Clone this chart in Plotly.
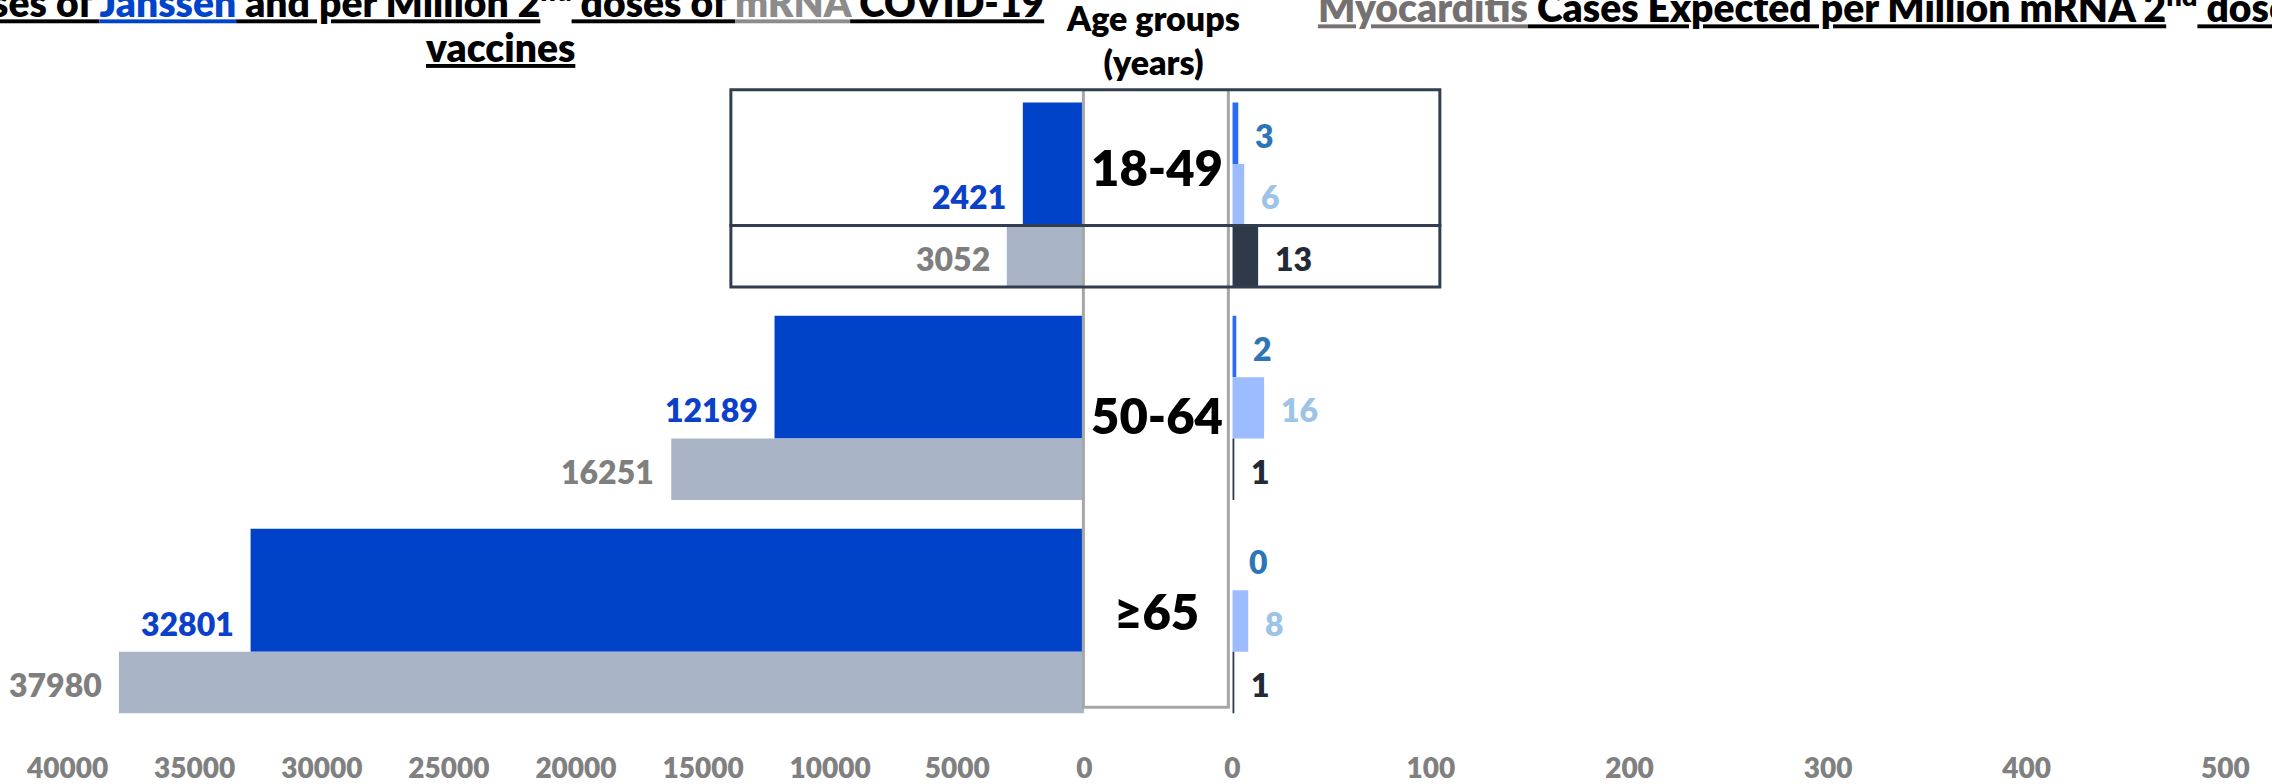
import plotly.graph_objects as go

# ---- data -------------------------------------------------------------
age_groups = ["18-49", "50-64", "≥65"]

# outcomes prevented per million doses (left panel)
janssen_prevented = [2421, 12189, 32801]
mrna_prevented = [3052, 16251, 37980]

# adverse events expected per million doses (right panel)
tts_janssen = [3, 2, 0]
gbs_janssen = [6, 16, 8]
myocarditis_mrna = [13, 1, 1]

left_ticks = [40000, 35000, 30000, 25000, 20000, 15000, 10000, 5000, 0]
right_ticks = [0, 100, 200, 300, 400, 500]

# ---- geometry helpers (pixels -> plot coordinates) ---------------------
W, H = 2272, 784
PLOT_BOTTOM = 752          # plot area spans pixel rows 0..752
ROW0_PX = 103              # top edge of the first bar row
SLOT_PX = 61.7             # height of one bar row
GROUP_PITCH = 3.468        # distance between age groups, in rows
LEFT_ZERO_PX = 1084
RIGHT_ZERO_PX = 1233
LEFT_PX_PER_UNIT = 0.0256
RIGHT_PX_PER_UNIT = 2.0


def paper_x(p):
    return p / W


def paper_y(p):
    return 1 - p / PLOT_BOTTOM


def slot_y(p):
    return (p - ROW0_PX) / SLOT_PX


bases = [g * GROUP_PITCH for g in range(len(age_groups))]
row_a = [b + 0.5 for b in bases]
row_b = [b + 1.5 for b in bases]
row_c = [b + 2.5 for b in bases]
janssen_rows = [b + 1.0 for b in bases]   # Janssen bar spans rows a and b

FONT = "Lato"
JANSSEN_BLUE = "#0043C8"
MRNA_GREY = "#A9B5C6"
TTS_BLUE = "#2A6CF7"
GBS_BLUE = "#9DBBFF"
MYO_DARK = "#2E3A4A"


def hbar(values, rows, color, axis, width=1):
    return go.Bar(
        x=values, y=rows, orientation="h", width=width,
        marker=dict(color=color, line=dict(width=0)),
        xaxis=axis, yaxis="y", hoverinfo="x", showlegend=False,
    )


fig = go.Figure()
fig.add_trace(hbar(janssen_prevented, janssen_rows, JANSSEN_BLUE, "x", width=2))
fig.add_trace(hbar(mrna_prevented, row_c, MRNA_GREY, "x"))
fig.add_trace(hbar(tts_janssen, row_a, TTS_BLUE, "x2"))
fig.add_trace(hbar(gbs_janssen, row_b, GBS_BLUE, "x2"))
fig.add_trace(hbar(myocarditis_mrna, row_c, MYO_DARK, "x2"))

annotations = []


def value_label(value, row, color, axis):
    left = axis == "x"
    annotations.append(dict(
        x=value, y=row, xref=axis, yref="y",
        text=str(value), showarrow=False,
        xanchor="right" if left else "left", yanchor="middle",
        xshift=-15 if left else 15, yshift=-2,
        font=dict(family=FONT, size=32, color=color, weight=800),
    ))


for i in range(len(age_groups)):
    value_label(janssen_prevented[i], row_b[i], "#0B40C9", "x")
    value_label(mrna_prevented[i], row_c[i], "#7F7F7F", "x")
    value_label(tts_janssen[i], row_a[i], "#2E75B6", "x2")
    value_label(gbs_janssen[i], row_b[i], "#9DC3E6", "x2")
    value_label(myocarditis_mrna[i], row_c[i], "#222A35", "x2")

# age-group names in the central column
age_label_offsets = [1.05, 1.62, 1.33]
for i, name in enumerate(age_groups):
    annotations.append(dict(
        x=paper_x(1157), y=bases[i] + age_label_offsets[i],
        xref="paper", yref="y", text=name, showarrow=False,
        xanchor="center", yanchor="middle",
        font=dict(family=FONT, size=49, color="black", weight=800),
    ))

annotations.append(dict(
    x=paper_x(1153), y=paper_y(84), xref="paper", yref="paper",
    text="Age groups<br>(years)", showarrow=False,
    xanchor="center", yanchor="bottom",
    font=dict(family=FONT, size=34, color="black", weight=800),
))

# panel titles
title_font = dict(family=FONT, size=39, color="black", weight=800)
annotations.append(dict(
    x=paper_x(1045), y=paper_y(27), xref="paper", yref="paper",
    text=("<u>Doses of </u><span style='color:#0044CC'><u>Janssen</u></span>"
          "<u> and per Million 2</u><sup>nd</sup><u> doses of </u>"
          "<span style='color:#8C8C8C'><u>mRNA</u></span><u> COVID-19</u>"),
    showarrow=False, xanchor="right", yanchor="bottom", font=title_font,
))
annotations.append(dict(
    x=paper_x(495), y=paper_y(72), xref="paper", yref="paper",
    text="<u>vaccines</u>", showarrow=False,
    xanchor="center", yanchor="bottom", font=title_font,
))
annotations.append(dict(
    x=paper_x(1317), y=paper_y(32), xref="paper", yref="paper",
    text=("<span style='color:#767171'><u>Myocarditis</u></span>"
          "<u> Cases Expected per Million mRNA 2</u><sup>nd</sup><u> doses</u>"),
    showarrow=False, xanchor="left", yanchor="bottom", font=title_font,
))

# frames: grey column around the age labels, dark boxes around 18-49 rows
shapes = [
    dict(type="path", xref="paper", yref="y",
         path=(f"M {paper_x(1083)},{slot_y(90)} L {paper_x(1083)},{slot_y(710)} "
               f"L {paper_x(1229)},{slot_y(710)} L {paper_x(1229)},{slot_y(90)}"),
         line=dict(color="#A6A6A6", width=3)),
    dict(type="rect", xref="paper", yref="y",
         x0=paper_x(728), x1=paper_x(1442), y0=slot_y(90), y1=bases[0] + 2,
         line=dict(color="#323E4F", width=3), fillcolor="rgba(0,0,0,0)"),
    dict(type="rect", xref="paper", yref="y",
         x0=paper_x(728), x1=paper_x(1442), y0=bases[0] + 2, y1=bases[0] + 3,
         line=dict(color="#323E4F", width=3), fillcolor="rgba(0,0,0,0)"),
]

tick_font = dict(family=FONT, size=28, color="#808080", weight=800)
axis_style = dict(showgrid=False, zeroline=False, showline=False, ticks="",
                  tickfont=tick_font, fixedrange=True)

fig.update_layout(
    width=W, height=H,
    margin=dict(l=0, r=0, t=0, b=H - PLOT_BOTTOM, pad=0),
    paper_bgcolor="white", plot_bgcolor="white",
    barmode="overlay", showlegend=False,
    xaxis=dict(domain=[0, paper_x(LEFT_ZERO_PX)],
               range=[LEFT_ZERO_PX / LEFT_PX_PER_UNIT, 0],
               tickvals=left_ticks, ticktext=[str(t) for t in left_ticks],
               anchor="y", **axis_style),
    xaxis2=dict(domain=[paper_x(RIGHT_ZERO_PX), 1],
                range=[0, (W - RIGHT_ZERO_PX) / RIGHT_PX_PER_UNIT],
                tickvals=right_ticks, ticktext=[str(t) for t in right_ticks],
                anchor="y", **axis_style),
    yaxis=dict(domain=[0, 1], range=[slot_y(PLOT_BOTTOM), slot_y(0)],
               visible=False, fixedrange=True),
    annotations=annotations,
    shapes=shapes,
)

fig.write_html("out.html")
